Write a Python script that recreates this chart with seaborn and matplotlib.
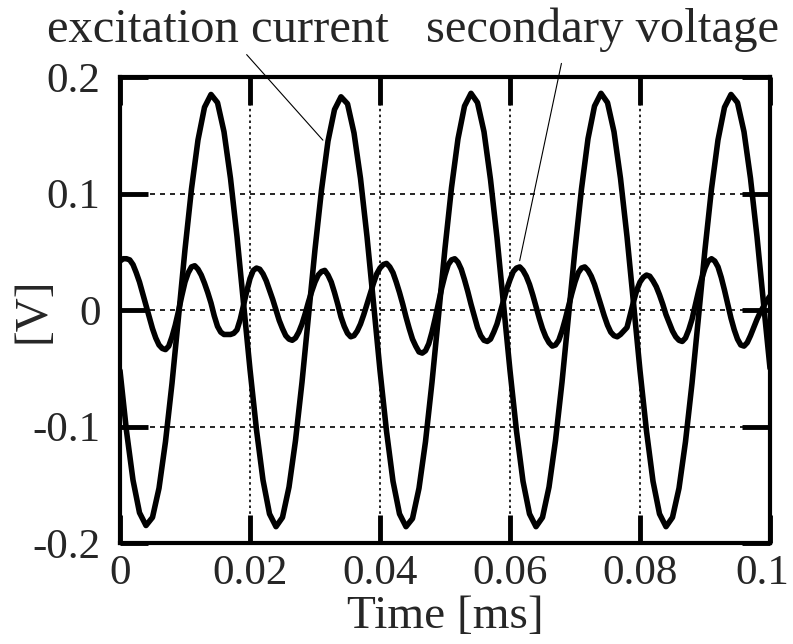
import numpy as np
import pandas as pd
import matplotlib.pyplot as plt
import matplotlib.transforms as mtransforms
import seaborn as sns

sns.set_style("ticks")
plt.rcParams["font.family"] = ["Liberation Serif", "DejaVu Serif"]

# sampling grids (ms)
time_exc = np.linspace(0, 0.1, 101)
time_sec = np.linspace(0, 0.1, 201)

# excitation current, one reading every 0.001 ms
excitation = [
    -0.052, -0.104, -0.146, -0.174, -0.185, -0.178, -0.153, -0.113, -0.063, -0.006,
    0.052, 0.104, 0.146, 0.174, 0.185, 0.178, 0.153, 0.113, 0.063, 0.006,
    -0.051, -0.103, -0.146, -0.175, -0.186, -0.178, -0.152, -0.112, -0.062, -0.005,
    0.052, 0.103, 0.145, 0.172, 0.183, 0.177, 0.152, 0.113, 0.063, 0.006,
    -0.052, -0.104, -0.147, -0.175, -0.186, -0.179, -0.153, -0.113, -0.062, -0.005,
    0.053, 0.105, 0.147, 0.175, 0.186, 0.178, 0.153, 0.112, 0.062, 0.005,
    -0.052, -0.104, -0.147, -0.175, -0.186, -0.178, -0.152, -0.112, -0.062, -0.005,
    0.052, 0.104, 0.147, 0.175, 0.186, 0.178, 0.153, 0.113, 0.063, 0.006,
    -0.052, -0.104, -0.147, -0.175, -0.186, -0.178, -0.153, -0.113, -0.063, -0.006,
    0.052, 0.104, 0.146, 0.174, 0.185, 0.178, 0.153, 0.113, 0.063, 0.006,
    -0.050,
]

# secondary voltage, one reading every 0.0005 ms
secondary = [
    0.042, 0.044, 0.044, 0.043, 0.039, 0.032, 0.024, 0.014, 0.004, -0.006,
    -0.016, -0.024, -0.030, -0.033, -0.034, -0.031, -0.023, -0.013, -0.001, 0.012,
    0.024, 0.032, 0.037, 0.038, 0.035, 0.030, 0.023, 0.015, 0.006, -0.005,
    -0.014, -0.019, -0.021, -0.021, -0.021, -0.020, -0.017, -0.008, 0.004, 0.016,
    0.027, 0.034, 0.036, 0.035, 0.031, 0.025, 0.017, 0.009, 0.000, -0.009,
    -0.016, -0.022, -0.025, -0.026, -0.024, -0.019, -0.012, -0.003, 0.007, 0.016,
    0.024, 0.030, 0.033, 0.034, 0.030, 0.024, 0.015, 0.005, -0.006, -0.014,
    -0.020, -0.023, -0.022, -0.018, -0.012, -0.004, 0.005, 0.014, 0.023, 0.031,
    0.036, 0.039, 0.040, 0.037, 0.032, 0.024, 0.015, 0.005, -0.006, -0.016,
    -0.025, -0.031, -0.036, -0.037, -0.035, -0.029, -0.019, -0.007, 0.006, 0.019,
    0.030, 0.039, 0.043, 0.044, 0.041, 0.035, 0.026, 0.016, 0.005, -0.005,
    -0.015, -0.022, -0.026, -0.027, -0.025, -0.019, -0.012, -0.002, 0.008, 0.018,
    0.026, 0.033, 0.036, 0.037, 0.034, 0.029, 0.022, 0.013, 0.003, -0.007,
    -0.016, -0.023, -0.028, -0.031, -0.030, -0.026, -0.018, -0.008, 0.003, 0.014,
    0.024, 0.032, 0.036, 0.037, 0.034, 0.029, 0.022, 0.013, 0.004, -0.005,
    -0.013, -0.019, -0.022, -0.023, -0.021, -0.018, -0.015, -0.004, 0.007, 0.017,
    0.024, 0.028, 0.030, 0.029, 0.025, 0.020, 0.013, 0.005, -0.004, -0.011,
    -0.018, -0.023, -0.026, -0.027, -0.024, -0.017, -0.008, 0.004, 0.016, 0.027,
    0.036, 0.042, 0.044, 0.042, 0.037, 0.028, 0.017, 0.005, -0.007, -0.017,
    -0.025, -0.030, -0.031, -0.028, -0.022, -0.015, -0.008, -0.002, 0.003, 0.008,
    0.012,
]

x_ticks = [0, 0.02, 0.04, 0.06, 0.08, 0.1]
x_labels = ["0", "0.02", "0.04", "0.06", "0.08", "0.1"]
y_ticks = [-0.2, -0.1, 0, 0.1, 0.2]
y_labels = ["-0.2", "-0.1", "0", "0.1", "0.2"]

df_exc = pd.DataFrame({"time": time_exc, "value": excitation})
df_sec = pd.DataFrame({"time": time_sec, "value": secondary})

fig = plt.figure(figsize=(7.93, 6.44), dpi=100)
ax = fig.add_axes([120 / 793, 1 - 543 / 644, 650 / 793, 466 / 644])

sns.lineplot(data=df_exc, x="time", y="value", color="black", lw=4,
             estimator=None, sort=False, ax=ax)
sns.lineplot(data=df_sec, x="time", y="value", color="black", lw=4,
             estimator=None, sort=False, ax=ax)

ax.set_xlim(0, 0.1)
ax.set_ylim(-0.2, 0.2)
ax.set_xticks(x_ticks)
ax.set_xticklabels(x_labels)
ax.set_yticks(y_ticks)
ax.set_yticklabels(y_labels)

ax.xaxis.grid(True, color="black", linestyle=(0, (1.5, 2)), linewidth=1.2)
ax.yaxis.grid(True, color="black", linestyle=(0, (3, 3)), linewidth=1.2)
ax.tick_params(direction="in", length=20, width=3.5, top=True, right=True,
               labelsize=31, color="black")
ax.tick_params(axis="x", pad=8)
ax.tick_params(axis="y", pad=14)
for sp in ax.spines.values():
    sp.set_linewidth(3)
    sp.set_color("black")

# last x label sits a little inside, as in the original
last = ax.get_xticklabels()[-1]
last.set_transform(last.get_transform() +
                   mtransforms.ScaledTranslation(-8 / 100, 0, fig.dpi_scale_trans))

ax.set_xlabel("Time [ms]", fontsize=34)
ax.set_ylabel("[V]", fontsize=34)
ax.xaxis.set_label_coords(0.5, -0.112)
ax.yaxis.set_label_coords(-0.10, 0.5)

# leader lines to the two traces
ax.annotate("", xy=(0.0315, 0.144), xytext=(0.0192, 0.221),
            arrowprops=dict(arrowstyle="-", lw=0.8, color="black"),
            annotation_clip=False)
ax.annotate("", xy=(0.0614, 0.040), xytext=(0.0680, 0.214),
            arrowprops=dict(arrowstyle="-", lw=0.8, color="black"),
            annotation_clip=False)
fig.text(218 / 793, 1 - 30 / 644, "excitation current", fontsize=35,
         ha="center", va="center")
fig.text(603 / 793, 1 - 30 / 644, "secondary voltage", fontsize=35,
         ha="center", va="center")

fig.savefig("out.png", dpi=100)
